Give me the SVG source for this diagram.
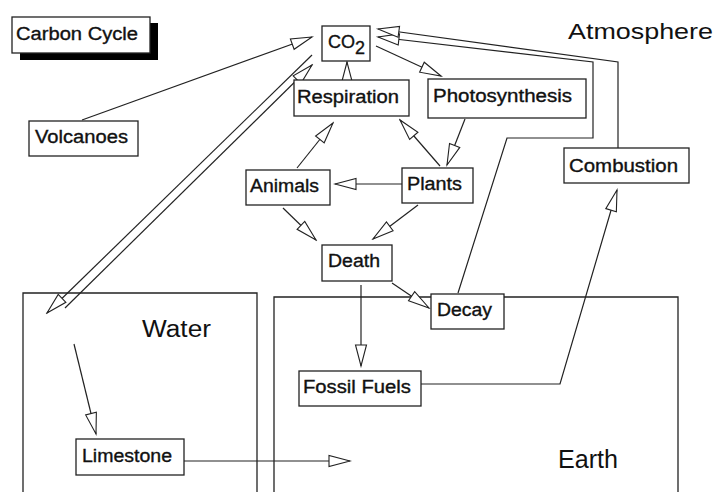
<svg xmlns="http://www.w3.org/2000/svg" width="717" height="492" viewBox="0 0 717 492">
<defs>
<style>
.box{fill:#fff;stroke:#222;stroke-width:1.3}
.region{fill:none;stroke:#222;stroke-width:1.3}
.lbl{font-family:"Liberation Sans",Arial,sans-serif;font-size:18px;fill:#111;stroke:#111;stroke-width:0.35}
.big{font-family:"Liberation Sans",Arial,sans-serif;fill:#111}
.con{fill:none;stroke:#222;stroke-width:1.2;marker-end:url(#ah)}
</style>
<marker id="ah" markerUnits="userSpaceOnUse" markerWidth="26" markerHeight="14" viewBox="-23 -7 24 14" refX="0" refY="0" orient="auto">
<path d="M0,0 L-21,-5.5 L-21,5.5 Z" fill="#fff" stroke="#222" stroke-width="1.1"/>
</marker>
</defs>
<rect width="717" height="492" fill="#fff"/>

<g id="regions">
<g id="water"><path class="region" d="M23,500 V293 H257 V500"/><text class="big" x="142" y="337" font-size="23" textLength="69" lengthAdjust="spacingAndGlyphs">Water</text></g>
<g id="earth"><path class="region" d="M274,500 V297 H678 V500"/><text class="big" x="558" y="468" font-size="25" textLength="60" lengthAdjust="spacingAndGlyphs">Earth</text></g>
<g id="atmosphere"><text class="big" x="568" y="39" font-size="22" textLength="145" lengthAdjust="spacingAndGlyphs">Atmosphere</text></g>
</g>

<g id="connectors">
<path class="con" d="M82,120 L312,37"/>
<path class="con" d="M312,55 L47,313"/>
<path class="con" d="M65,308 L312,65"/>
<path class="con" d="M347,81 L347,62"/>
<path class="con" d="M376,46 L441,76"/>
<path class="con" d="M465,119 L447,165"/>
<path class="con" d="M440,166 L400,120"/>
<path class="con" d="M297,168 L333,123"/>
<path class="con" d="M402,184 L335,184"/>
<path class="con" d="M283,208 L316,240"/>
<path class="con" d="M418,205 L373,239"/>
<path class="con" d="M361,285 L361,366"/>
<path class="con" d="M392,283 L429,308"/>
<path class="con" d="M458,293 L507,138 L593,138 L593,62 L378,37"/>
<path class="con" d="M618,148 L618,62 L378,29"/>
<path class="con" d="M421,384 L560,384 L617,190"/>
<path class="con" d="M74,344 L96,434"/>
<path class="con" d="M184,461 L350,461"/>
</g>

<g id="title">
<rect x="20" y="23" width="138" height="37" fill="#000"/>
<rect class="box" x="12" y="17" width="138" height="36"/>
<text class="lbl" x="16" y="40" textLength="122" lengthAdjust="spacingAndGlyphs">Carbon Cycle</text>
</g>
<g id="volcanoes"><rect class="box" x="29" y="121" width="109" height="35"/><text class="lbl" x="35" y="143" textLength="93" lengthAdjust="spacingAndGlyphs">Volcanoes</text></g>
<g id="co2"><rect class="box" x="322" y="26" width="48" height="35"/><text class="lbl" x="328" y="48" font-size="17">CO<tspan dy="6">2</tspan></text></g>
<g id="respiration"><rect class="box" x="294" y="80" width="115" height="36"/><text class="lbl" x="297" y="103" textLength="102" lengthAdjust="spacingAndGlyphs">Respiration</text></g>
<g id="photosynthesis"><rect class="box" x="428" y="79" width="158" height="39"/><text class="lbl" x="433" y="102" textLength="139" lengthAdjust="spacingAndGlyphs">Photosynthesis</text></g>
<g id="animals"><rect class="box" x="246" y="170" width="84" height="35"/><text class="lbl" x="250" y="192" textLength="69" lengthAdjust="spacingAndGlyphs">Animals</text></g>
<g id="plants"><rect class="box" x="402" y="168" width="71" height="35"/><text class="lbl" x="407" y="190" textLength="55" lengthAdjust="spacingAndGlyphs">Plants</text></g>
<g id="combustion"><rect class="box" x="564" y="148" width="125" height="35"/><text class="lbl" x="569" y="172" textLength="109" lengthAdjust="spacingAndGlyphs">Combustion</text></g>
<g id="death"><rect class="box" x="322" y="245" width="70" height="36"/><text class="lbl" x="328" y="267" textLength="52" lengthAdjust="spacingAndGlyphs">Death</text></g>
<g id="decay"><rect class="box" x="431" y="294" width="73" height="35"/><text class="lbl" x="437" y="316" textLength="55" lengthAdjust="spacingAndGlyphs">Decay</text></g>
<g id="fossil-fuels"><rect class="box" x="299" y="371" width="122" height="35"/><text class="lbl" x="303" y="393" textLength="108" lengthAdjust="spacingAndGlyphs">Fossil Fuels</text></g>
<g id="limestone"><rect class="box" x="76" y="439" width="108" height="36"/><text class="lbl" x="82" y="462" textLength="90" lengthAdjust="spacingAndGlyphs">Limestone</text></g>
</svg>
